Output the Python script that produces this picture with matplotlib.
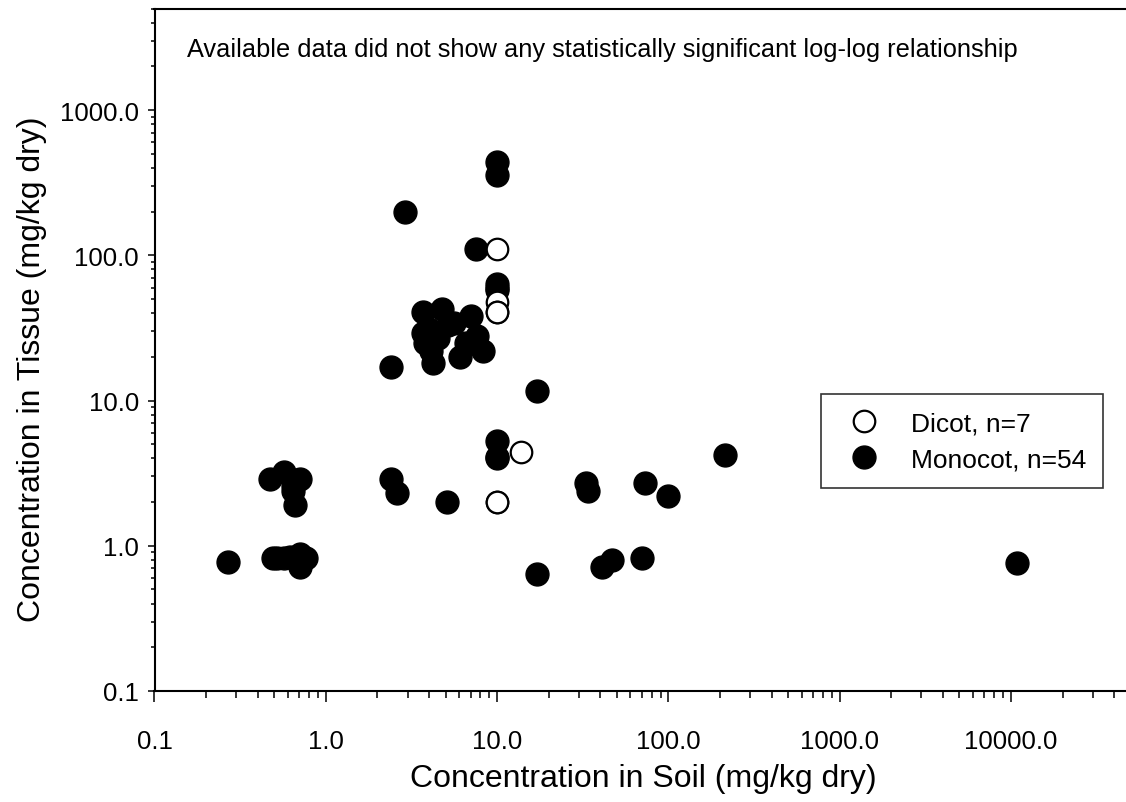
import numpy as np
import matplotlib
matplotlib.use("Agg")
import matplotlib.pyplot as plt
from matplotlib import ticker

plt.rcParams['font.family'] = ['Liberation Sans', 'DejaVu Sans']

# soil vs tissue concentration (mg/kg dry)
dicot_soil = [10, 10, 10, 10, 10, 10, 13.7]
dicot_tissue = [110, 48, 41, 41, 2.0, 2.0, 4.4]

mono_soil = [0.27, 0.49, 0.52, 0.57, 0.62, 0.71, 0.77, 0.71,
             0.47, 0.57, 0.71, 0.64, 0.66, 0.64,
             2.4, 2.6, 5.1, 10, 10, 10, 17, 17, 33, 34, 41, 47, 70, 73, 99, 213, 10900,
             2.9, 10, 10, 7.5, 10, 10, 10, 2.4,
             3.7, 4.8, 5.2, 7.0, 3.7, 3.8, 4.1, 4.2, 6.1, 6.6, 7.6, 8.3,
             4.0, 4.5, 5.6, 7.3]
mono_tissue = [0.77, 0.83, 0.83, 0.82, 0.84, 0.71, 0.83, 0.88,
               2.9, 3.2, 2.9, 2.4, 1.9, 2.6,
               2.9, 2.3, 2.0, 4.0, 4.1, 5.3, 0.64, 11.6, 2.7, 2.4, 0.71, 0.80, 0.83, 2.7, 2.2, 4.2, 0.76,
               200, 440, 360, 110, 63, 60, 58, 17,
               41, 43, 33, 38, 29, 25, 22, 18, 20, 25, 28, 22,
               31, 27, 34, 25]

labels = ["Dicot, n=7", "Monocot, n=54"]
note = "Available data did not show any statistically significant log-log relationship"

fig = plt.figure(figsize=(11.26, 8.03), dpi=100)
W, H = 1126, 803
left, right, bottom, top = 154.5, 1130.7, 692, 9.6
ax = fig.add_axes([left / W, (H - bottom) / H, (right - left) / W, (bottom - top) / H])

ax.plot(mono_soil, mono_tissue, 'o', ms=16.5, mfc='black', mec='black', mew=1,
        linestyle='none', label=labels[1], zorder=3)
ax.plot(dicot_soil, dicot_tissue, 'o', ms=15.5, mfc='white', mec='black', mew=1.6,
        linestyle='none', label=labels[0], zorder=4)

ax.set_xscale('log')
ax.set_yscale('log')
ax.set_xlim(0.1, 50000)
ax.set_ylim(0.1, 5000)

fmt = ticker.FuncFormatter(lambda v, p: f"{v:.1f}")
for axis in (ax.xaxis, ax.yaxis):
    axis.set_major_locator(ticker.LogLocator(base=10))
    axis.set_minor_locator(ticker.LogLocator(base=10, subs=np.arange(2, 10)))
    axis.set_major_formatter(fmt)
    axis.set_minor_formatter(ticker.NullFormatter())

ax.tick_params(axis='x', which='major', direction='out', length=7.7, width=1.1, labelsize=18.5, pad=20)
ax.tick_params(axis='x', which='minor', direction='out', length=4.8, width=1.1)
ax.tick_params(axis='y', which='major', direction='out', length=5.3, width=1.1, labelsize=18.5, pad=6)
ax.tick_params(axis='y', which='minor', direction='out', length=3, width=1.1)

for s in ('left', 'bottom', 'top'):
    ax.spines[s].set_linewidth(1.5)
ax.spines['right'].set_visible(False)

fig.text(643 / W, (H - 779) / H, "Concentration in Soil (mg/kg dry)", fontsize=23,
         ha='center', va='center')
fig.text(32 / W, (H - 369) / H, "Concentration in Tissue (mg/kg dry)", fontsize=23,
         ha='center', va='center', rotation=90)

ax.text((187 - left) / (right - left), (bottom - 50) / (bottom - top), note, fontsize=18.3,
        transform=ax.transAxes, ha='left', va='center')

h, l = ax.get_legend_handles_labels()
leg = ax.legend(h[::-1], l[::-1], loc='upper left',
                bbox_to_anchor=((821 - left) / (right - left), (bottom - 395) / (bottom - top)),
                borderaxespad=0, fontsize=19, frameon=True, fancybox=False,
                borderpad=0.65, labelspacing=0.45, handlelength=1.95, handletextpad=0.8,
                markerscale=1.0)
leg.get_frame().set_edgecolor('black')
leg.get_frame().set_linewidth(1.2)

fig.savefig("out.png", dpi=100)
